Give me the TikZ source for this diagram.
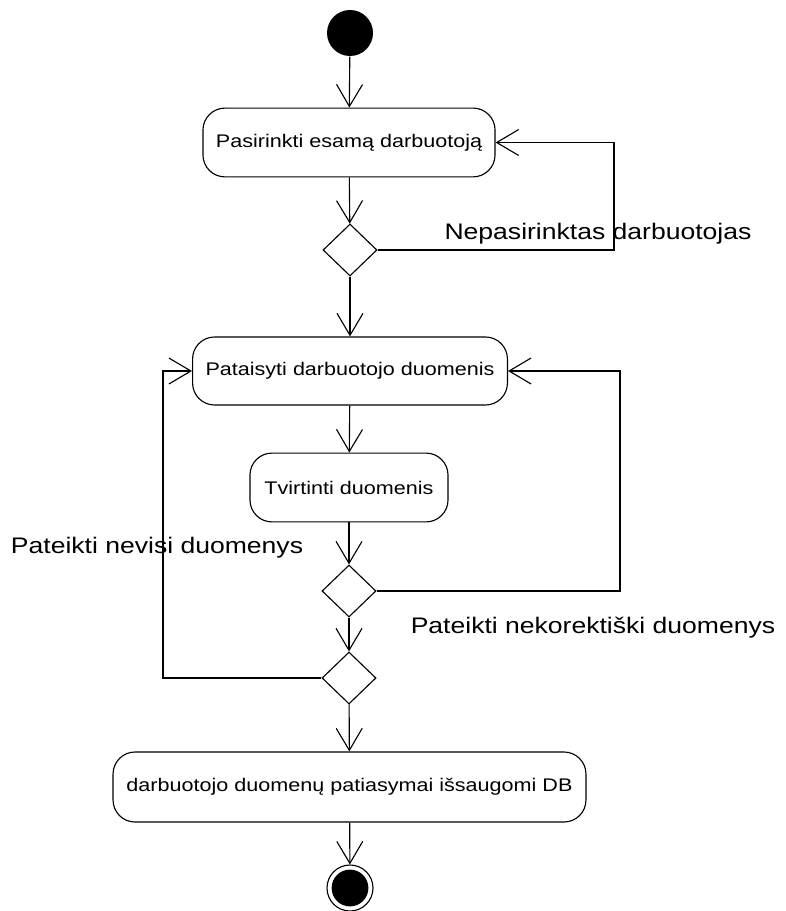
\documentclass[tikz,border=0pt]{standalone}
\usepackage{fontspec}
\setmainfont{Liberation Sans}
\newfontfamily\widesans[FakeStretch=1.18]{Liberation Sans}
\usetikzlibrary{shapes.geometric,arrows.meta}

\begin{document}
\begin{tikzpicture}[x=0.025cm,y=-0.025cm,line width=0.8pt,
    act/.style={draw,rounded corners=0.55cm,inner sep=0pt,font=\widesans\fontsize{13}{15}\selectfont},
    choice/.style={draw,diamond,aspect=1,inner sep=0pt,minimum width=1.35cm,minimum height=1.3cm},
    flow/.style={-{Straight Barb[length=5.5mm,width=6.5mm]}},
    guard/.style={font=\widesans\fontsize{16}{18}\selectfont}]
  \useasboundingbox (0,0) rectangle (786,911);
  % start and end
  \node[circle,fill=black,minimum size=1.15cm,inner sep=0pt] (start) at (350,33) {};
  \node[circle,draw,minimum size=1.15cm,inner sep=0pt] (end) at (350,888) {};
  \node[circle,fill=black,minimum size=0.92cm,inner sep=0pt] (endin) at (end) {};
  % actions
  \node[act,minimum width=7.3cm,minimum height=1.72cm] (pick) at (349,142.5) {Pasirinkti esamą darbuotoją};
  \node[act,minimum width=7.87cm,minimum height=1.7cm] (edit) at (350,371) {Pataisyti darbuotojo duomenis};
  \node[act,minimum width=4.95cm,minimum height=1.72cm] (confirm) at (349,487.5) {Tvirtinti duomenis};
  \node[act,minimum width=11.82cm,minimum height=1.75cm] (save) at (349.5,787) {darbuotojo duomenų patiasymai išsaugomi DB};
  % decisions
  \node[choice] (d1) at (350,250) {};
  \node[choice] (d2) at (349,591) {};
  \node[choice] (d3) at (349,678) {};
  % loop corners
  \coordinate (r1) at (614,250);
  \coordinate (r2) at (620,591);
  \coordinate (l3) at (163,678);
  % guards
  \node[guard] (g1) at (598,234) {Nepasirinktas darbuotojas};
  \node[guard] (g2) at (157,548) {Pateikti nevisi duomenys};
  \node[guard] (g3) at (593,628) {Pateikti nekorektiški duomenys};
  % flows
  \draw[flow] (start) -- (pick);
  \draw[flow] (pick) -- (d1);
  \draw[flow] (d1.east) -- (r1) |- (pick.east);
  \draw[flow] (d1) -- (edit);
  \draw[flow] (edit) -- (confirm);
  \draw[flow] (confirm) -- (d2);
  \draw[flow] (d2.east) -- (r2) |- (edit.east);
  \draw[flow] (d2) -- (d3);
  \draw[flow] (d3.west) -- (l3) |- (edit.west);
  \draw[flow] (d3) -- (save);
  \draw[flow] (save) -- (end);
\end{tikzpicture}
\end{document}
